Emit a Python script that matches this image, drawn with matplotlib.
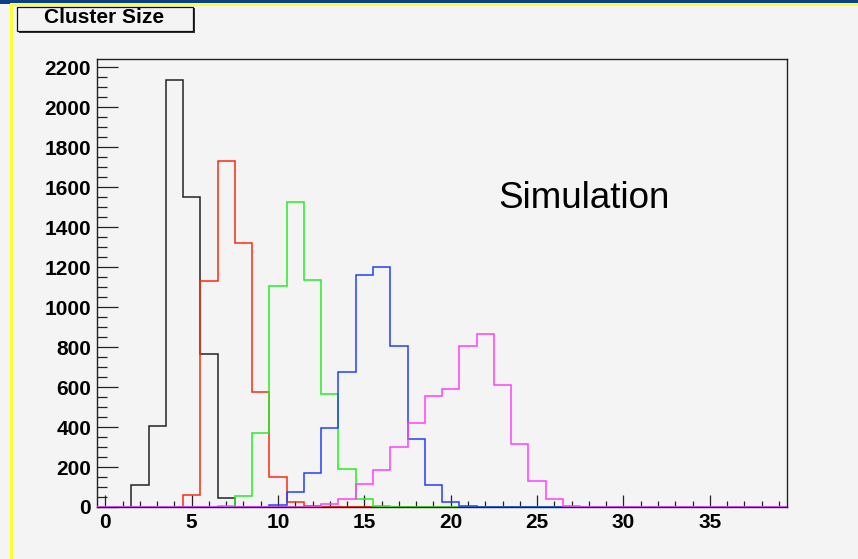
import numpy as np
import matplotlib.pyplot as plt
from matplotlib.patches import Rectangle

# cluster size histograms, one count per integer bin 0..39
n_bins = 40
black_start, black_counts = 2, [110, 406, 2136, 1550, 764, 45]
red_start, red_counts = 5, [62, 1130, 1732, 1321, 574, 149, 25, 5]
green_start, green_counts = 7, [3, 57, 371, 1105, 1528, 1136, 564, 188, 40, 3]
blue_start, blue_counts = 10, [12, 74, 171, 396, 676, 1160, 1202, 807, 341, 109, 27, 4]
magenta_start, magenta_counts = 13, [13, 40, 117, 183, 301, 420, 554, 589, 807, 868,
                                     610, 316, 130, 39, 3]

series = [
    (black_start, black_counts, '#222222'),
    (red_start, red_counts, '#ff2a10'),
    (green_start, green_counts, '#22ee22'),
    (blue_start, blue_counts, '#2040ff'),
    (magenta_start, magenta_counts, '#ff40ff'),
]

x_ticks = [0, 5, 10, 15, 20, 25, 30, 35]
y_ticks = list(range(0, 2201, 200))

W, H = 858, 559
bg = '#f4f4f4'

fig = plt.figure(figsize=(W / 100, H / 100), dpi=100, facecolor=bg)
left, right, top, bottom = 96.7, 787.5, 59.3, 507.0
ax = fig.add_axes([left / W, 1 - bottom / H, (right - left) / W, (bottom - top) / H])
ax.set_facecolor(bg)

edges = np.arange(-0.5, n_bins, 1.0)
for z, (start, counts, color) in enumerate(series):
    h = np.zeros(n_bins)
    h[start:start + len(counts)] = counts
    ax.stairs(h, edges, color=color, lw=1.1, zorder=3 + z)

ax.set_xlim(-0.5, 39.5)
ax.set_ylim(0, 2240)
ax.set_xticks(x_ticks)
ax.set_xticks(np.arange(0, 40, 1), minor=True)
ax.set_yticks(y_ticks)
ax.set_yticks(np.arange(0, 2201, 50), minor=True)

ax.tick_params(axis='both', direction='in', color='#222222', width=0.9,
               labelsize=15, pad=4.0)
ax.tick_params(axis='y', which='major', length=15)
ax.tick_params(axis='y', which='minor', length=7.2, width=0.9, direction='in', color='#222222')
ax.tick_params(axis='x', which='major', length=8.6)
ax.tick_params(axis='x', which='minor', length=4.3, width=0.9, direction='in', color='#222222')
for lab in ax.get_xticklabels() + ax.get_yticklabels():
    lab.set_fontweight('bold')
    lab.set_fontfamily('Liberation Sans')

for s in ax.spines.values():
    s.set_color('#222222')
    s.set_linewidth(1.0)

fig.text(498 / W, 1 - 208.3 / H, 'Simulation', fontsize=26.5,
         family='Liberation Sans', ha='left', va='baseline')


def px_rect(x0, y0, x1, y1, **kw):
    return Rectangle((x0 / W, 1 - y1 / H), (x1 - x0) / W, (y1 - y0) / H,
                     transform=fig.transFigure, **kw)


# window border stripes
fig.add_artist(px_rect(0, 0, W, 3.5, facecolor='#0b3f86', edgecolor='none'))
fig.add_artist(px_rect(10, 3.5, W, 5.5, facecolor='#ffff33', edgecolor='none'))
fig.add_artist(px_rect(9.5, 3.5, 12.5, H, facecolor='#ffff33', edgecolor='none'))

# title box with shadow
fig.add_artist(px_rect(18.5, 8.5, 195, 33, facecolor='#333333', edgecolor='none'))
fig.add_artist(px_rect(16.5, 6.5, 192.5, 30.5, facecolor=bg, edgecolor='#111111', lw=0.9))
fig.text(104 / W, 1 - 23 / H, 'Cluster Size', fontsize=15, fontweight='bold',
         family='Liberation Sans', ha='center', va='baseline')

fig.savefig('out.png', dpi=100, facecolor=bg)
